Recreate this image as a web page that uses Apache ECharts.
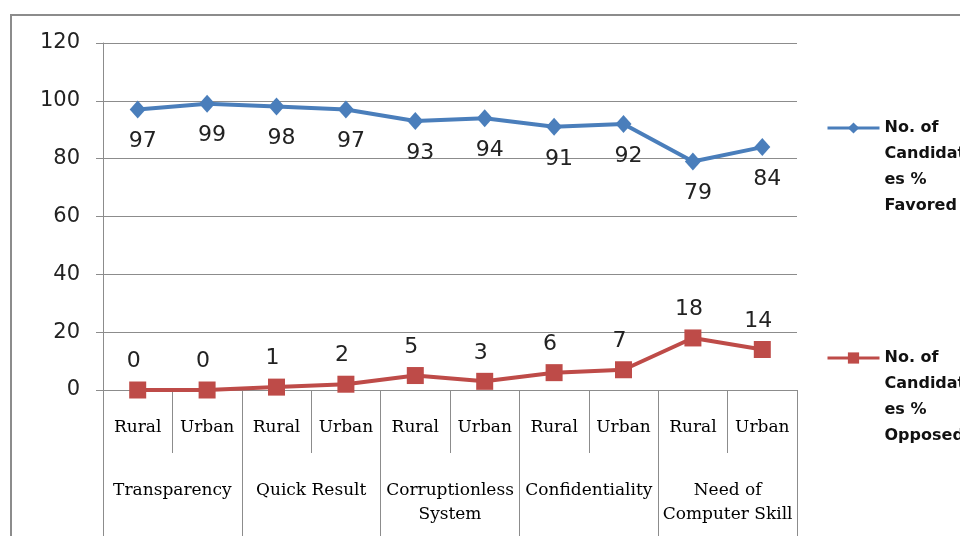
<!DOCTYPE html>
<html>
<head>
<meta charset="utf-8">
<script src="https://cdn.jsdelivr.net/npm/echarts@6/dist/echarts.min.js"></script>
<style>
  html, body { margin: 0; padding: 0; background: #fff; }
  #chart { width: 960px; height: 536px; }
</style>
</head>
<body>
<div id="chart"></div>
<script>
// data
var areas = ['Rural', 'Urban', 'Rural', 'Urban', 'Rural', 'Urban', 'Rural', 'Urban', 'Rural', 'Urban'];
var groups = ['Transparency', 'Quick Result', 'Corruptionless\nSystem', 'Confidentiality', 'Need of\nComputer Skill'];
var favored = [97, 99, 98, 97, 93, 94, 91, 92, 79, 84];
var opposed = [0, 0, 1, 2, 5, 3, 6, 7, 18, 14];
var yTicks = [0, 20, 40, 60, 80, 100, 120];

var gray = '#8c8c8c';
var sans = '"DejaVu Sans", sans-serif';
var serif = '"DejaVu Serif", serif';

var chart = echarts.init(document.getElementById('chart'));

// legend text: first line sits level with the icon, so pad with empty lines above
function legendText(last) {
	return '\n\n\nNo. of\nCandidat\nes %\n' + last;
}

var option = {
	animation: false,
	graphic: [{
		type: 'rect',
		shape: { x: 11, y: 15, width: 1000, height: 600 },
		style: { fill: 'none', stroke: gray, lineWidth: 2 },
		silent: true
	}],
	legend: [{
		data: ['No. of Candidates % Favored'],
		left: 826,
		top: 37,
		padding: 0,
		itemWidth: 52,
		itemHeight: 14,
		lineStyle: { width: 3 },
		formatter: function () { return legendText('Favored'); },
		textStyle: { fontFamily: sans, fontSize: 16, fontWeight: 600, color: '#111', lineHeight: 26 }
	}, {
		data: ['No. of Candidates % Opposed'],
		left: 826,
		top: 267,
		padding: 0,
		itemWidth: 52,
		itemHeight: 14,
		lineStyle: { width: 3 },
		formatter: function () { return legendText('Opposed'); },
		textStyle: { fontFamily: sans, fontSize: 16, fontWeight: 600, color: '#111', lineHeight: 26 }
	}],
	grid: {
		left: 103,
		right: 163,
		top: 43,
		bottom: 146,
		containLabel: false
	},
	xAxis: [{
		type: 'category',
		position: 'bottom',
		data: areas,
		boundaryGap: true,
		axisLine: { show: true, lineStyle: { color: gray, width: 1 } },
		axisTick: { show: true, interval: 0, length: 63, lineStyle: { color: gray, width: 1 } },
		axisLabel: { interval: 0, margin: 29, fontFamily: serif, fontSize: 17, color: '#000' },
		splitLine: { show: false }
	}, {
		type: 'category',
		position: 'bottom',
		data: groups,
		boundaryGap: true,
		axisLine: { show: false },
		axisTick: { show: true, interval: 0, length: 150, lineStyle: { color: gray, width: 1 } },
		axisLabel: { interval: 0, margin: 89, fontFamily: serif, fontSize: 17, color: '#000', lineHeight: 24 },
		splitLine: { show: false }
	}],
	yAxis: {
		type: 'value',
		min: yTicks[0],
		max: yTicks[yTicks.length - 1],
		interval: yTicks[1] - yTicks[0],
		axisLine: { show: true, lineStyle: { color: gray, width: 1 } },
		axisTick: { show: true, length: 7, lineStyle: { color: gray } },
		axisLabel: { margin: 23, fontFamily: sans, fontSize: 21, color: '#222' },
		splitLine: { show: true, lineStyle: { color: gray, width: 1 } }
	},
	series: [{
		name: 'No. of Candidates % Favored',
		type: 'line',
		xAxisIndex: 0,
		data: favored,
		symbol: 'diamond',
		symbolSize: [16, 18],
		lineStyle: { color: '#4a7ebb', width: 4 },
		itemStyle: { color: '#4a7ebb' },
		label: { show: true, position: 'bottom', distance: 12, offset: [5, 0], fontFamily: sans, fontSize: 22, color: '#222' }
	}, {
		name: 'No. of Candidates % Opposed',
		type: 'line',
		xAxisIndex: 0,
		data: opposed,
		symbol: 'rect',
		symbolSize: 17,
		lineStyle: { color: '#be4b48', width: 4 },
		itemStyle: { color: '#be4b48' },
		label: { show: true, position: 'top', distance: 9, offset: [-4, 0], fontFamily: sans, fontSize: 22, color: '#222' }
	}]
};

chart.setOption(option);
</script>
</body>
</html>
